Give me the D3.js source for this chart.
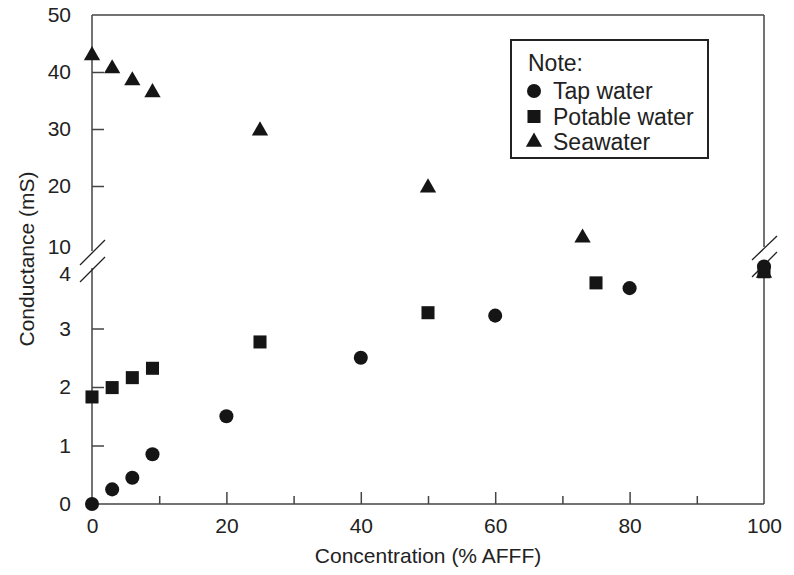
<!DOCTYPE html>
<html><head><meta charset="utf-8">
<script src="https://cdn.jsdelivr.net/npm/d3@7"></script>
<style>body{margin:0;background:#fff}svg{display:block}text{font-family:"Liberation Sans",Arial,Helvetica,sans-serif;fill:#222}</style>
</head><body><svg id="c" width="794" height="575"></svg>
<script>
const tapX = [0, 3, 6, 9, 20, 40, 60, 80, 100];
const tapY = [0, 0.25, 0.45, 0.85, 1.5, 2.5, 3.22, 3.69, 4.06];
const potX = [0, 3, 6, 9, 25, 50, 75, 100];
const potY = [1.83, 1.99, 2.16, 2.32, 2.77, 3.27, 3.78, 3.97];
const seaX = [0, 3, 6, 9, 25, 50, 73, 100];
const seaY = [42.9, 40.6, 38.5, 36.4, 29.7, 19.7, 10.9, 3.95];
const xTicks = [0, 10, 20, 30, 40, 50, 60, 70, 80, 90, 100];
const xLabels = [0, 20, 40, 60, 80, 100];
const yUpTicks = [10, 20, 30, 40, 50];
const yLoTicks = [0, 1, 2, 3, 4];
const legendItems = ["Tap water", "Potable water", "Seawater"];

const svg = d3.select("#c");
const L = 92, R = 764, T = 15, B = 504;
const x = d3.scaleLinear().domain([0, 100]).range([L, R]);
const yUp = d3.scaleLinear().domain([10, 50]).range([243, T]);
const yLo = d3.scaleLinear().domain([0, 4]).range([B, 270]);
const y = v => v >= 10 ? yUp(v) : yLo(v);
const ax = "#444";
const fs = "21px";

// frame lines
const g = svg.append("g").attr("stroke", ax).attr("stroke-width", 1.5).attr("fill", "none");
g.append("line").attr("x1", L).attr("x2", R).attr("y1", T).attr("y2", T);
g.append("line").attr("x1", L).attr("x2", R).attr("y1", B).attr("y2", B);
g.append("line").attr("x1", L).attr("x2", L).attr("y1", T).attr("y2", 251);
g.append("line").attr("x1", L).attr("x2", L).attr("y1", 268).attr("y2", B);
g.append("line").attr("x1", R).attr("x2", R).attr("y1", T).attr("y2", 247);
g.append("line").attr("x1", R).attr("x2", R).attr("y1", 264).attr("y2", B);
// break marks
const bk = svg.append("g").attr("stroke", "#222").attr("stroke-width", 1.3);
[[80, 265, 105, 240], [80, 282, 105, 257], [752, 260, 777, 236], [752, 277, 777, 252]].forEach(d =>
  bk.append("line").attr("x1", d[0]).attr("y1", d[1]).attr("x2", d[2]).attr("y2", d[3]));

function styleAxis(sel) {
  sel.select(".domain").remove();
  sel.selectAll(".tick line").attr("stroke", ax).attr("stroke-width", 1.5);
  sel.selectAll(".tick text").style("font-size", fs).attr("fill", "#222");
}
// y axes
const gUp = svg.append("g").attr("transform", `translate(${L},0)`)
  .call(d3.axisLeft(yUp).tickValues(yUpTicks).tickSizeInner(-12).tickSizeOuter(0).tickPadding(21).tickFormat(d3.format("d")));
styleAxis(gUp);
gUp.selectAll(".tick").filter(d => d === 10 || d === 50).select("line").remove();
gUp.selectAll(".tick").filter(d => d === 10).select("text").attr("dy", "0.5em");
const gLo = svg.append("g").attr("transform", `translate(${L},0)`)
  .call(d3.axisLeft(yLo).tickValues(yLoTicks).tickSizeInner(-12).tickSizeOuter(0).tickPadding(21).tickFormat(d3.format("d")));
styleAxis(gLo);
gLo.selectAll(".tick").filter(d => d === 4 || d === 0).select("line").remove();
gLo.selectAll(".tick").filter(d => d === 4).select("text").attr("dy", "0.5em");
// x axis
const gxMin = svg.append("g").attr("transform", `translate(0,${B})`)
  .call(d3.axisBottom(x).tickValues(xTicks.filter(v => xLabels.indexOf(v) < 0)).tickSizeInner(-8).tickSizeOuter(0).tickFormat(""));
styleAxis(gxMin);
const gxMaj = svg.append("g").attr("transform", `translate(0,${B})`)
  .call(d3.axisBottom(x).tickValues(xLabels).tickSizeInner(-12).tickSizeOuter(0).tickPadding(14).tickFormat(d3.format("d")));
styleAxis(gxMaj);
gxMaj.selectAll(".tick").filter(d => d === 0 || d === 100).select("line").remove();

// titles
svg.append("text").attr("x", (L + R) / 2).attr("y", 563).attr("text-anchor", "middle")
  .style("font-size", fs).text("Concentration (% AFFF)");
svg.append("text").attr("transform", `translate(34,${259}) rotate(-90)`).attr("text-anchor", "middle")
  .style("font-size", fs).text("Conductance (mS)");

// data
const fill = "#151515";
const sym = {
  circle: d3.symbol().type(d3.symbolCircle).size(155),
  square: d3.symbol().type(d3.symbolSquare).size(170),
  triangle: d3.symbol().type(d3.symbolTriangle).size(115)
};
function plot(xs, ys, s) {
  svg.append("g").selectAll("path").data(xs.map((v, i) => [v, ys[i]])).join("path")
    .attr("d", sym[s]).attr("fill", fill)
    .attr("transform", d => `translate(${x(d[0])},${y(d[1])})`);
}
plot(potX, potY, "square");
plot(seaX, seaY, "triangle");
plot(tapX, tapY, "circle");

// legend
const lg = svg.append("g");
lg.append("rect").attr("x", 511).attr("y", 40).attr("width", 197).attr("height", 118)
  .attr("fill", "#fff").attr("stroke", "#222").attr("stroke-width", 2);
lg.append("text").attr("x", 528).attr("y", 71).style("font-size", "23px").text("Note:");
const ls = ["circle", "square", "triangle"];
legendItems.forEach((t, i) => {
  const yy = 91 + i * 25.5;
  lg.append("path").attr("d", sym[ls[i]]).attr("fill", fill).attr("transform", `translate(534,${yy})`);
  lg.append("text").attr("x", 553).attr("y", yy + 8).style("font-size", "23px").text(t);
});
</script></body></html>
